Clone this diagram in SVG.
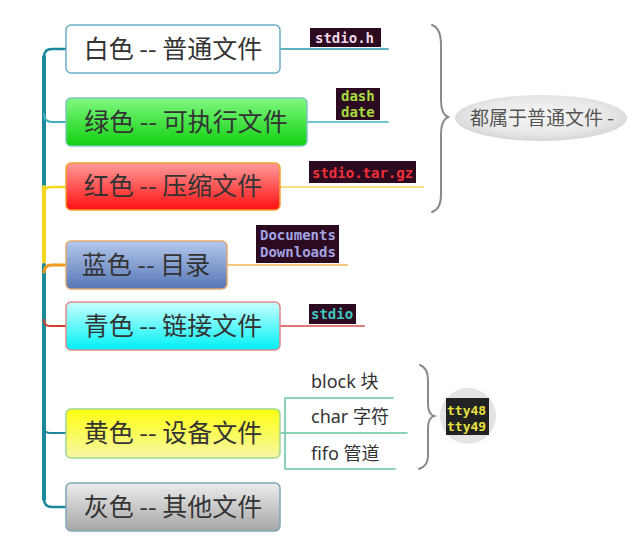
<svg xmlns="http://www.w3.org/2000/svg" width="636" height="554" viewBox="0 0 636 554">
<defs>
<linearGradient id="gWhite" x1="0" y1="0" x2="0" y2="1"><stop offset="0" stop-color="#ffffff"/><stop offset="1" stop-color="#ffffff"/></linearGradient>
<linearGradient id="gGreen" x1="0" y1="0" x2="0" y2="1"><stop offset="0" stop-color="#80f880"/><stop offset="1" stop-color="#10d010"/></linearGradient>
<linearGradient id="gRed" x1="0" y1="0" x2="0" y2="1"><stop offset="0" stop-color="#ff9a9a"/><stop offset="1" stop-color="#ff1010"/></linearGradient>
<linearGradient id="gBlue" x1="0" y1="0" x2="0" y2="1"><stop offset="0" stop-color="#b4c8ec"/><stop offset="1" stop-color="#5676b6"/></linearGradient>
<linearGradient id="gCyan" x1="0" y1="0" x2="0" y2="1"><stop offset="0" stop-color="#c8ffff"/><stop offset="1" stop-color="#00f0f4"/></linearGradient>
<linearGradient id="gYellow" x1="0" y1="0" x2="0" y2="1"><stop offset="0" stop-color="#ffff10"/><stop offset="1" stop-color="#f6f6a6"/></linearGradient>
<linearGradient id="gGray" x1="0" y1="0" x2="0" y2="1"><stop offset="0" stop-color="#ececec"/><stop offset="1" stop-color="#a6a6a6"/></linearGradient>
<radialGradient id="gEll" cx="0.5" cy="0.45" r="0.55"><stop offset="0" stop-color="#f6f6f6"/><stop offset="0.7" stop-color="#e8e8e8"/><stop offset="1" stop-color="#d6d6d6"/></radialGradient>
</defs>
<style>
.lbl{font-family:"Noto Sans CJK SC","Noto Sans",sans-serif;font-size:25px;fill:#333;text-anchor:middle}
.mono{font-family:"DejaVu Sans Mono","Liberation Mono",monospace;font-size:14px;font-weight:bold}
.term{fill:#2c0a20}
.sub{font-family:"Noto Sans","Noto Sans CJK SC",sans-serif;font-size:18px;fill:#333}
.node{stroke-width:1.5}
.brace{fill:none;stroke:#8a8a8a;stroke-width:2;stroke-linecap:round}
</style>

<g id="connectors" fill="none" stroke-linecap="round">
  <path d="M44,57 L44,187" stroke="#1a8a9a" stroke-width="4"/>
  <path d="M44,187 L44,262" stroke="#f4d820" stroke-width="4"/>
  <path d="M44,265 L44,499" stroke="#1a8a9a" stroke-width="4"/>
  <path d="M66,49 L52,49 Q44,49 44,57" stroke="#1a8a9a" stroke-width="2.5"/>
  <path d="M44,114 Q44,122 52,122 L66,122" stroke="#40b0c0" stroke-width="2"/>
  <path d="M44,193 Q44,187 52,187 L66,187" stroke="#f4d820" stroke-width="2.5"/>
  <path d="M44,272 Q44,265 52,265 L66,265" stroke="#f09a20" stroke-width="3"/>
  <path d="M44,320 Q44,326 50,326 L66,326" stroke="#d04030" stroke-width="2"/>
  <path d="M44,427 Q44,433 50,433 L66,433" stroke="#1a8a9a" stroke-width="2"/>
  <path d="M44,499 Q44,507 52,507 L66,507" stroke="#1a8a9a" stroke-width="2.5"/>
  <path d="M280,49 L388,49" stroke="#60b0c0" stroke-width="2"/>
  <path d="M307,122 L388,122" stroke="#70c8d4" stroke-width="2"/>
  <path d="M280,187 L423,187" stroke="#f8e080" stroke-width="2"/>
  <path d="M227,265 L347,265" stroke="#f4c880" stroke-width="2"/>
  <path d="M280,326 L364,326" stroke="#e07878" stroke-width="2"/>
  <path d="M280,433 L407,433 M285,398 L393,398 M285,469 L395,469 M285,398 L285,469" stroke="#66c4a0" stroke-width="1.5"/>
  <path class="brace" d="M432,25 Q441,28 441,45 L441,100 Q441,114 448,117 Q441,120 441,134 L441,195 Q441,209 432,212"/>
  <path class="brace" d="M420,365 Q428,368 428,380 L428,404 Q428,414 434,416 Q428,418 428,428 L428,456 Q428,466 419,469"/>
</g>

<g id="n-white">
  <rect class="node" x="66" y="25" width="214" height="48" rx="5" fill="url(#gWhite)" stroke="#6aaec6"/>
  <text class="lbl" x="173" y="58">白色 -- 普通文件</text>
</g>
<g id="n-green">
  <rect class="node" x="66" y="98" width="241" height="48" rx="5" fill="url(#gGreen)" stroke="#7cc8c0"/>
  <text class="lbl" x="186" y="131">绿色 -- 可执行文件</text>
</g>
<g id="n-red">
  <rect class="node" x="66" y="163" width="214" height="47" rx="5" fill="url(#gRed)" stroke="#f4a030"/>
  <text class="lbl" x="173" y="195">红色 -- 压缩文件</text>
</g>
<g id="n-blue">
  <rect class="node" x="66" y="241" width="161" height="48" rx="5" fill="url(#gBlue)" stroke="#e0a870"/>
  <text class="lbl" x="146" y="274">蓝色 -- 目录</text>
</g>
<g id="n-cyan">
  <rect class="node" x="66" y="302" width="214" height="48" rx="5" fill="url(#gCyan)" stroke="#e08a8a"/>
  <text class="lbl" x="173" y="335">青色 -- 链接文件</text>
</g>
<g id="n-yellow">
  <rect class="node" x="66" y="409" width="214" height="49" rx="5" fill="url(#gYellow)" stroke="#a0d890"/>
  <text class="lbl" x="173" y="442">黄色 -- 设备文件</text>
</g>
<g id="n-gray">
  <rect class="node" x="66" y="483" width="214" height="48" rx="5" fill="url(#gGray)" stroke="#7ea8b8"/>
  <text class="lbl" x="173" y="516">灰色 -- 其他文件</text>
</g>

<g id="t-stdioh">
  <rect class="term" x="310" y="28" width="71" height="19"/>
  <text class="mono" x="315" y="43" fill="#f0d8e8">stdio.h</text>
</g>
<g id="t-dash">
  <rect class="term" x="336" y="88" width="44" height="32"/>
  <text class="mono" x="341" y="101" fill="#a8dc3c">dash</text>
  <text class="mono" x="341" y="117" fill="#a8dc3c">date</text>
</g>
<g id="t-tar">
  <rect class="term" x="309" y="161" width="107" height="22"/>
  <text class="mono" x="312" y="178" fill="#f03038">stdio.tar.gz</text>
</g>
<g id="t-docs">
  <rect class="term" x="256" y="225" width="83" height="38"/>
  <text class="mono" x="260" y="240" fill="#a4a4e4">Documents</text>
  <text class="mono" x="260" y="257" fill="#a4a4e4">Downloads</text>
</g>
<g id="t-stdio">
  <rect class="term" x="309" y="304" width="47" height="20"/>
  <text class="mono" x="311" y="319" fill="#40c8c0">stdio</text>
</g>

<g id="n-block"><text class="sub" x="311" y="388">block 块</text></g>
<g id="n-char"><text class="sub" x="311" y="423">char 字符</text></g>
<g id="n-fifo"><text class="sub" x="311" y="460">fifo 管道</text></g>

<g id="n-normal">
  <ellipse cx="541" cy="118" rx="86" ry="23" fill="url(#gEll)"/>
  <text x="470" y="125" font-family="'Noto Sans CJK SC','Noto Sans',sans-serif" font-size="19" fill="#555">都属于普通文件 -</text>
</g>

<g id="n-tty">
  <circle cx="468" cy="416" r="28" fill="#e4e4e4"/>
  <rect x="446" y="398" width="43" height="37" fill="#222"/>
  <text class="mono" x="447" y="415" fill="#e8e040" style="font-size:13px">tty48</text>
  <text class="mono" x="447" y="431" fill="#e8e040" style="font-size:13px">tty49</text>
</g>
</svg>
